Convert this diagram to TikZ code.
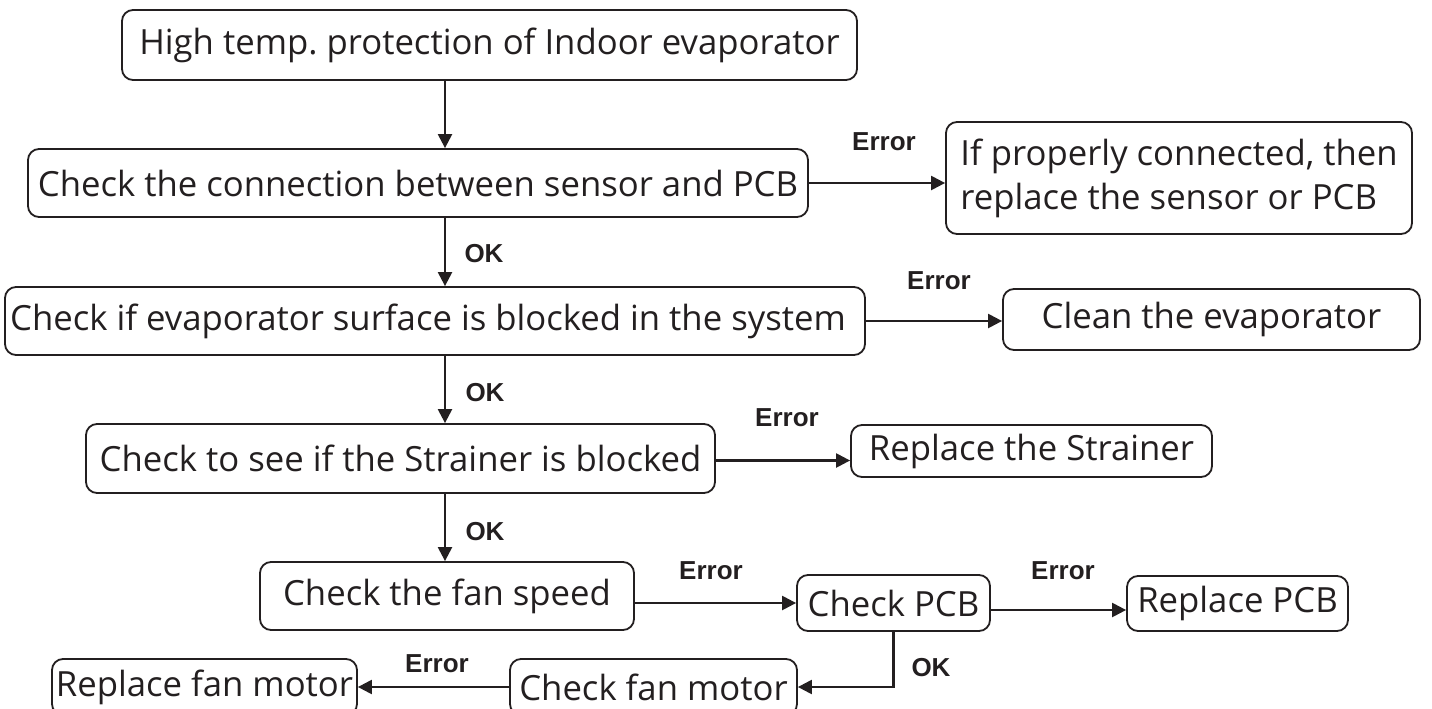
\documentclass[tikz,border=0pt]{standalone}
\usepackage{fontspec}
\setmainfont{Open Sans}
\newfontfamily\lblfont{Liberation Sans}
\usetikzlibrary{arrows.meta,calc}
\definecolor{ink}{RGB}{35,31,32}
\tikzset{
  box/.style={draw=ink, line width=1.8pt, rounded corners=11pt, inner sep=0pt,
    text=ink, font=\fontsize{34.7}{44}\selectfont, align=center},
  conn/.style={draw=ink, line width=2.3pt, -{Triangle[length=14pt,width=14pt]}},
  lbl/.style={text=ink, inner sep=0pt, font=\lblfont\bfseries\fontsize{26}{30}\selectfont}
}
\begin{document}
\begin{tikzpicture}[x=1pt,y=-1pt]
\useasboundingbox (0,0) rectangle (1432,709);
\coordinate (spine) at (445,0);
\node[box, minimum width=735pt, minimum height=70pt] (b1) at (489.5,45) {High temp.\ protection of Indoor evaporator};
\node[box, minimum width=780pt, minimum height=68pt] (b2) at (418,183) {Check the connection between sensor and PCB};
\node[box, minimum width=466pt, minimum height=112pt, align=left] (b3) at (1179,178) {If properly connected, then\\replace the sensor or PCB};
\node[box, minimum width=860pt, minimum height=68pt] (b4) at (435,321) {Check if evaporator surface is blocked in the system\hspace{14pt}};
\node[box, minimum width=417pt, minimum height=61pt] (b5) at (1211.5,319.5) {Clean the evaporator};
\node[box, minimum width=629pt, minimum height=69pt] (b6) at (400.5,458.5) {Check to see if the Strainer is blocked};
\node[box, minimum width=361pt, minimum height=52pt] (b7) at (1031.5,451) {Replace the Strainer};
\node[box, minimum width=374pt, minimum height=68pt] (b8) at (447,596) {Check the fan speed};
\node[box, minimum width=193pt, minimum height=56pt] (b9) at (893.5,603) {Check PCB};
\node[box, minimum width=221pt, minimum height=55pt] (b10) at (1237.5,603.5) {Replace PCB};
\node[box, minimum width=287pt, minimum height=56pt] (b11) at (653.5,687) {Check fan motor};
\node[box, minimum width=305pt, minimum height=56pt] (b12) at (204.5,687) {Replace fan motor};

\draw[conn] (b1.south -| spine) -- (b2.north -| spine);
\draw[conn] (b2.south -| spine) -- (b4.north -| spine);
\draw[conn] (b4.south -| spine) -- (b6.north -| spine);
\draw[conn] (b6.south -| spine) -- (b8.north -| spine);
\draw[conn] (b2.east) -- (b2.east -| b3.west);
\draw[conn] (b4.east) -- (b4.east -| b5.west);
\draw[conn] ([yshift=-2pt]b6.east) -- ([yshift=-2pt]b6.east -| b7.west);
\draw[conn] (b9.west -| b8.east) -- (b9.west);
\draw[conn] ([yshift=-7pt]b9.east) -- ([yshift=-7pt]b9.east -| b10.west);
\draw[conn] (b9.south) |- (b11.east);
\draw[conn] (b11.west) -- (b12.east);

\node[lbl] (e1) at (884,142) {Error};
\node[lbl] (o1) at (484,254) {OK};
\node[lbl] (e2) at (939,281) {Error};
\node[lbl] (o2) at (485,393) {OK};
\node[lbl] (e3) at (787,418) {Error};
\node[lbl] (o3) at (485,532) {OK};
\node[lbl] (e4) at (711,571) {Error};
\node[lbl] (e5) at (1063,571) {Error};
\node[lbl] (o4) at (931,668) {OK};
\node[lbl] (e6) at (437,664) {Error};
\end{tikzpicture}
\end{document}
